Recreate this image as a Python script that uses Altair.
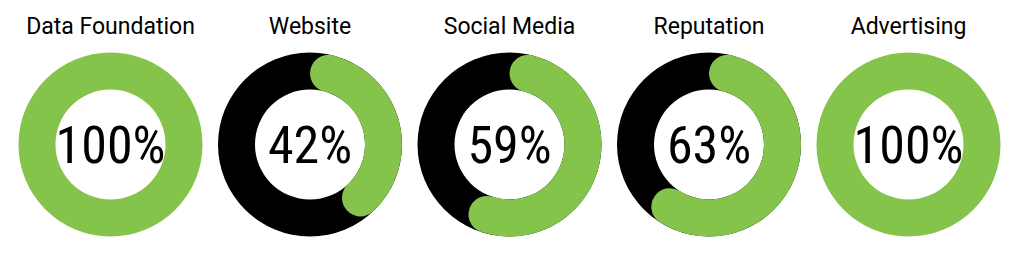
import math
import altair as alt
import pandas as pd

categories = ["Data Foundation", "Website", "Social Media", "Reputation", "Advertising"]
values = [100, 42, 59, 63, 100]

GREEN = "#84c44b"

df = pd.DataFrame({"cat": categories, "value": values})
df["start"] = 0.0
df["end"] = df["value"] / 100 * 2 * math.pi
df["full"] = 2 * math.pi
df["label"] = df["value"].astype(str) + "%"

x_enc = alt.X("cat:N", sort=categories,
              scale=alt.Scale(type="point", domain=categories, range=[110.5, 908.5], padding=0),
              axis=None)

base = alt.Chart(df).encode(x=x_enc)

bg = base.transform_filter("datum.value < 100").mark_arc(
    radius=92, radius2=55, color="black"
).encode(
    y=alt.value(144.5),
    theta=alt.Theta("start:Q", scale=None, stack=None),
    theta2=alt.Theta2("full:Q"),
)

fg = base.mark_arc(
    radius=92, radius2=55, color=GREEN, cornerRadius=18.5
).encode(
    y=alt.value(144.5),
    theta=alt.Theta("start:Q", scale=None, stack=None),
    theta2=alt.Theta2("end:Q"),
)

pct = base.mark_text(
    font="Roboto Condensed, Liberation Sans Narrow, DejaVu Sans Condensed, sans-serif",
    fontSize=52, color="black", baseline="middle", align="center"
).encode(
    y=alt.value(147),
    text="label:N",
)

titles = base.mark_text(
    font="Roboto", fontSize=23, color="black", baseline="alphabetic", align="center"
).encode(
    y=alt.value(34),
    text="cat:N",
)

chart = alt.layer(bg, fg, pct, titles).properties(
    width=1024, height=262,
    autosize=alt.AutoSizeParams(type="none"),
    padding=0,
).configure_view(stroke=None)

chart.save("out.html", embed_options={"renderer": "svg", "actions": False})
